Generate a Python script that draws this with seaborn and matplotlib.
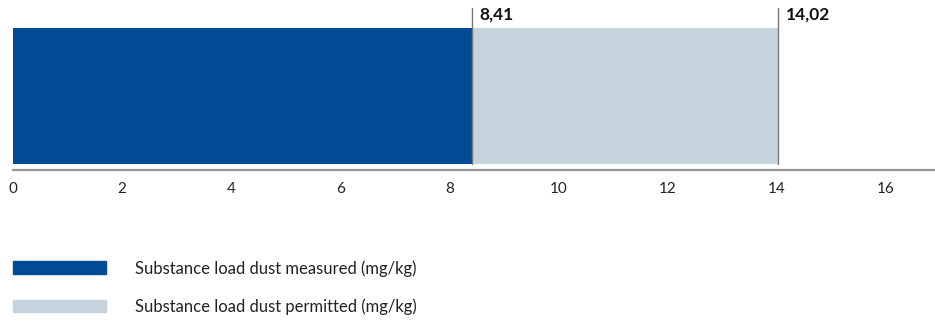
import pandas as pd
import seaborn as sns
import matplotlib.pyplot as plt
from matplotlib.patches import Patch

series = ['Substance load dust permitted (mg/kg)', 'Substance load dust measured (mg/kg)']
values = [14.02, 8.41]
value_labels = ['14,02', '8,41']
colors = ['#c6d3dd', '#004b93']
ticks = [0, 2, 4, 6, 8, 10, 12, 14, 16]

df = pd.DataFrame({'cat': ['dust', 'dust'], 'series': series, 'value': values})

sns.set_theme(style='white')
plt.rcParams['font.family'] = ['Lato', 'DejaVu Sans']

fig = plt.figure(figsize=(9.35, 3.21), dpi=100)
ax = fig.add_axes([13 / 935, 1 - 170 / 321, 1 - 13 / 935, 162 / 321])

sns.barplot(data=df, x='value', y='cat', hue='series', hue_order=series,
            palette=colors, dodge=False, width=0.8, orient='h',
            saturation=1, legend=False, linewidth=0, ax=ax)

ax.set_xlim(0, 16.9)
ax.set_ylim(0.435, -0.518)
ax.set_xticks(ticks)
ax.set_xticklabels([str(t) for t in ticks], fontsize=11, color='#222222')
ax.set_yticks([])
ax.set_xlabel('')
ax.set_ylabel('')
ax.tick_params(axis='x', length=0, pad=9)
for s in ['top', 'right', 'left']:
    ax.spines[s].set_visible(False)
ax.spines['bottom'].set_color('#999999')
ax.spines['bottom'].set_linewidth(1.6)

for v, lab in zip(values, value_labels):
    ax.plot([v, v], [0.4, -0.518], color='#777777', lw=1, clip_on=False)
    ax.text(v + 0.14, -0.525, lab, ha='left', va='top', fontsize=12.5,
            fontweight='bold', color='#111111')

handles = [Patch(color=colors[1]), Patch(color=colors[0])]
fig.legend(handles, [series[1], series[0]], loc='upper left',
           bbox_to_anchor=(13 / 935, 1 - 260 / 321), frameon=False,
           fontsize=12, handlelength=5.6, handleheight=0.8,
           handletextpad=1.7, labelspacing=1.3, borderpad=0,
           borderaxespad=0, labelcolor='#222222')

fig.savefig('out.png', dpi=100)
